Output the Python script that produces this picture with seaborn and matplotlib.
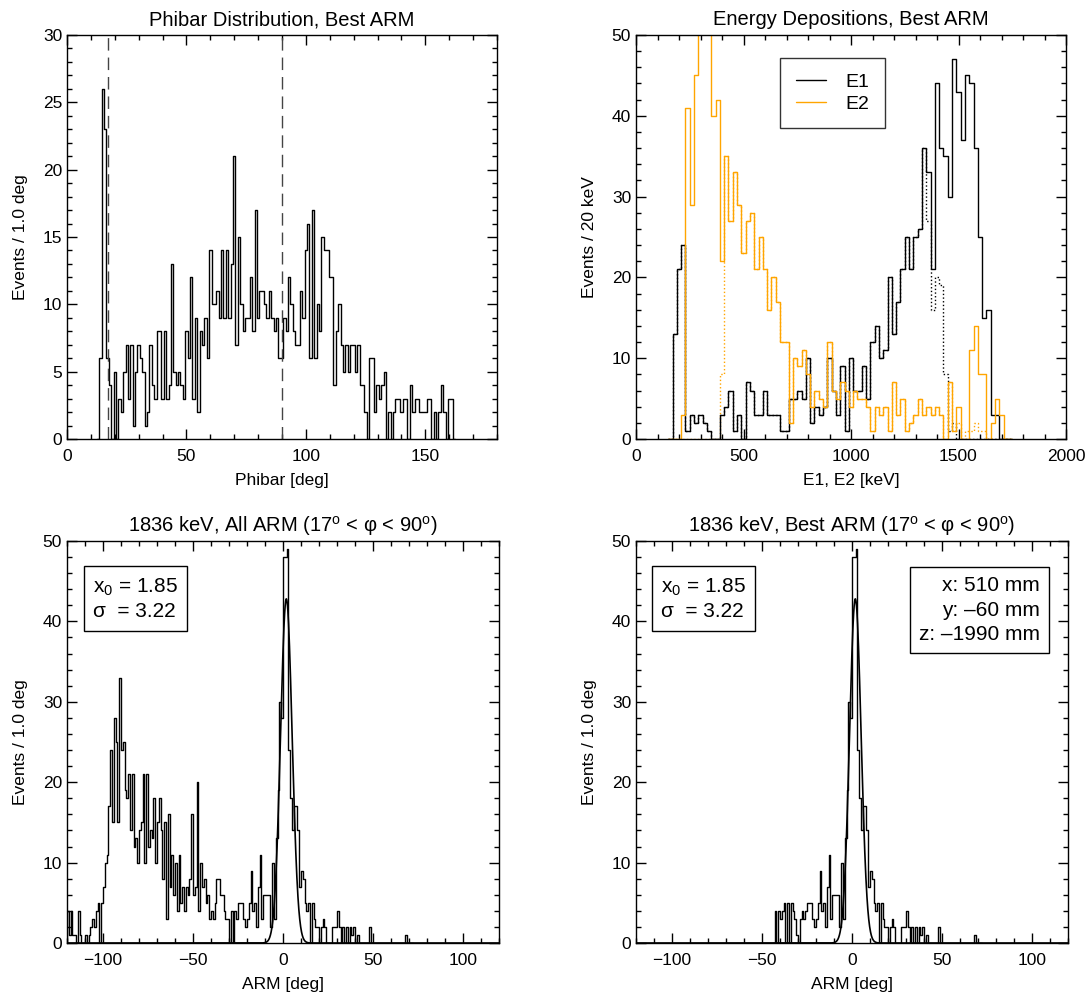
import numpy as np
import pandas as pd
import matplotlib
matplotlib.use("Agg")
import matplotlib.pyplot as plt
import seaborn as sns
from matplotlib.ticker import MultipleLocator

# ===============================
# DATA
# ===============================

# Phibar histogram, 1 deg bins starting at 13.5 deg
phibar_start = 13.5
phibar_counts = [
    6, 26, 23, 6, 4, 0, 5, 0, 3, 2,
    5, 7, 3, 7, 1, 5, 7, 6, 5, 1,
    2, 7, 4, 3, 8, 8, 3, 8, 3, 4,
    13, 5, 4, 5, 4, 3, 8, 6, 12, 3,
    9, 2, 8, 7, 9, 6, 14, 10, 10, 11,
    9, 14, 9, 14, 9, 13, 21, 7, 15, 10,
    8, 9, 9, 12, 8, 17, 9, 11, 11, 10,
    9, 11, 9, 8, 9,
    6, 6, 9, 8, 12, 10, 8, 7, 7, 11,
    9, 14, 16, 6, 17, 6, 10, 8, 15, 14,
    14, 12, 12, 4, 8, 10, 7, 5, 7, 5,
    7, 7, 5, 7, 4, 4, 2, 0, 6, 6,
    2, 4, 3, 4, 5, 0, 2, 0, 2, 3,
    3, 2, 3, 3, 0, 4, 2, 3, 3, 2,
    2, 2, 3, 3, 0, 2, 0, 2, 4, 2,
    0, 3, 3,
]
phibar_cuts = [17, 90]

# Energy depositions, 20 keV bins starting at 170 keV
energy_start = 170
e1_counts = [
    13, 21, 24, 1, 3, 2, 3, 2, 1, 0,
    0, 3, 4, 6, 1, 3, 0, 7, 6, 3,
    3, 6, 3, 3, 3, 1, 1, 5, 5, 6,
    5, 10, 2, 4, 3, 4, 10, 6, 3, 9,
    1, 10, 6, 6, 9, 5, 12, 14, 10, 11,
    20, 13, 17, 21, 25, 21, 25, 26, 36, 33,
    21, 44, 36, 35, 30, 47, 43, 37, 45, 44,
    36, 25, 15, 16, 3, 3, 0, 0,
]
e2_counts = [
    0, 0, 3, 41, 29, 45, 58, 62, 55, 40,
    42, 22, 35, 27, 33, 29, 23, 27, 28, 21,
    25, 21, 16, 20, 17, 12, 12, 2, 10, 9,
    11, 8, 4, 6, 5, 4, 12, 6, 5, 7,
    6, 4, 6, 5, 5, 4, 1, 4, 3, 4,
    1, 7, 3, 5, 1, 2, 3, 5, 3, 4,
    3, 4, 3, 0, 7, 1, 4, 0, 0, 11,
    14, 8, 8, 0, 2, 5, 3, 0,
]
e1_sel_counts = [
    13, 21, 24, 1, 3, 2, 3, 2, 1, 0,
    0, 3, 4, 6, 1, 3, 0, 7, 6, 3,
    3, 6, 3, 3, 3, 1, 1, 5, 5, 6,
    5, 10, 2, 4, 3, 4, 10, 6, 3, 9,
    1, 10, 6, 6, 9, 5, 12, 14, 10, 11,
    20, 13, 17, 21, 25, 21, 25, 26, 36, 27,
    16, 20, 19, 8, 1, 2, 0, 0, 0, 0,
    0, 0, 0, 0, 0, 0, 0, 0,
]
e2_sel_counts = [
    0, 0, 0, 0, 0, 0, 0, 0, 0, 0,
    0, 8, 35, 27, 33, 29, 23, 27, 28, 21,
    25, 21, 16, 20, 17, 12, 12, 2, 10, 9,
    11, 8, 4, 6, 5, 4, 12, 6, 5, 7,
    6, 4, 6, 5, 5, 4, 1, 4, 3, 4,
    1, 7, 3, 5, 1, 2, 3, 5, 3, 4,
    3, 4, 3, 0, 7, 1, 2, 0, 1, 1,
    2, 1, 1, 0, 0, 0, 0, 0,
]

# ARM histograms, 1 deg bins
arm_all_start = -120
arm_all_counts = [
    4, 1, 4, 1, 1, 0, 4, 1, 0, 0, 1, 0, 1, 2, 3, 2, 4, 5, 0, 5,
    7, 10, 11, 17, 24, 15, 28, 25, 15, 33,
    24, 25, 19, 18, 21, 14, 21, 12, 13, 10,
    14, 15, 21, 10, 21, 12, 14, 13, 18, 10,
    15, 18, 14, 8, 15, 3, 16, 7, 11, 6,
    10, 4, 11, 5, 7, 4, 7, 6, 8, 16,
    6, 7, 20, 4, 10, 7, 8, 5, 6, 3,
    4, 3, 5, 8, 8, 6, 6, 4, 3, 3,
    0, 4, 0, 4, 3, 5,
    5, 5, 3, 2, 3, 5, 9, 4, 5, 2, 7, 11, 3, 6, 6, 6, 6, 2, 10, 3,
    13, 19, 30, 28,
    48, 48, 49, 24, 18, 14, 17, 17, 14, 7,
    9, 8, 5, 4, 5, 0, 5, 3, 2, 2,
    0, 2, 3, 2, 0, 0, 0, 2, 2, 2,
    4, 2, 0, 2, 0, 2, 0, 2, 1, 2,
    0, 1, 0, 0, 0, 0, 0, 0, 2, 0,
    0, 0, 0, 0, 0, 0, 0, 0, 0, 0,
    0, 0, 0, 0, 0, 0, 0, 0, 1, 0, 0,
]
arm_best_start = -43
arm_best_counts = [
    4, 0, 4, 3, 4, 5, 0, 5, 0, 5, 4, 3, 1, 0, 3, 4, 3, 4, 5,
    5, 5, 3, 2, 3, 5, 9, 4, 5, 2, 7, 11, 3, 6, 6, 6, 6, 2, 10, 3,
    13, 19, 30, 28,
    48, 48, 49, 24, 18, 14, 17, 17, 14, 7,
    9, 8, 5, 4, 5, 0, 5, 3, 2, 2,
    0, 2, 3, 2, 0, 0, 0, 2, 2, 2,
    4, 2, 0, 2, 0, 2, 0, 2, 1, 2,
    0, 1, 0, 0, 0, 0, 0, 0, 2, 0,
    0, 0, 0, 0, 0, 0, 0, 0, 0, 0,
    0, 0, 0, 0, 0, 0, 0, 0, 1, 0, 0,
]

# Gaussian fit of the ARM peak
fit_x0 = 1.85
fit_sigma = 3.22
fit_amp = 42.8

# ===============================
# STYLE
# ===============================

sns.set_theme(style="ticks")
plt.rcParams["font.family"] = ["Liberation Sans", "DejaVu Sans"]
plt.rcParams["mathtext.fontset"] = "custom"
plt.rcParams["mathtext.rm"] = "Liberation Sans"
plt.rcParams["mathtext.it"] = "Liberation Sans:italic"
plt.rcParams["mathtext.sf"] = "Liberation Sans"
plt.rcParams["axes.edgecolor"] = "black"
plt.rcParams["axes.linewidth"] = 1.0
plt.rcParams["text.color"] = "black"
plt.rcParams["axes.labelcolor"] = "black"
plt.rcParams["xtick.color"] = "black"
plt.rcParams["ytick.color"] = "black"

W, H = 1092, 1002
fig = plt.figure(figsize=(W / 100, H / 100), dpi=100)


def make_ax(left, right, top, bottom):
    return fig.add_axes([left / W, 1 - bottom / H, (right - left) / W, (bottom - top) / H])


def step_hist(ax, start, width, counts, **kw):
    # pad one empty bin on each side so the outline drops to zero at the ends
    counts = np.concatenate([[0.0], np.asarray(counts, dtype=float), [0.0]])
    first = start - width
    centers = first + width * (np.arange(len(counts)) + 0.5)
    df = pd.DataFrame({"center": centers, "count": counts})
    sns.histplot(data=df, x="center", weights="count", binwidth=width,
                 binrange=(first, first + width * len(counts)),
                 element="step", fill=False, ax=ax, **kw)


def style_ax(ax, xmaj, xmin, ymaj, ymin):
    ax.xaxis.set_major_locator(MultipleLocator(xmaj))
    ax.xaxis.set_minor_locator(MultipleLocator(xmin))
    ax.yaxis.set_major_locator(MultipleLocator(ymaj))
    ax.yaxis.set_minor_locator(MultipleLocator(ymin))
    ax.tick_params(which="both", direction="in", top=True, right=True,
                   color="black", width=1, labelsize=12.5, labelcolor="black")
    ax.tick_params(which="major", length=7)
    ax.tick_params(which="minor", length=3.5)
    ax.tick_params(axis="x", which="major", pad=7.5)
    ax.tick_params(axis="y", which="major", pad=3.5)
    for s in ax.spines.values():
        s.set_color("black")
        s.set_linewidth(1)


title_kw = dict(fontsize=14.5, pad=7, color="black")
xlabel_kw = dict(fontsize=12.5, color="black", labelpad=6)
ylabel_kw = dict(fontsize=12.5, color="black", labelpad=10.5)

# ===============================
# PANEL 1 : PHIBAR
# ===============================

ax1 = make_ax(67, 497, 35, 439)
step_hist(ax1, phibar_start, 1, phibar_counts, color="black", linewidth=1)
for c in phibar_cuts:
    ax1.axvline(c, color="#444444", linestyle=(0, (9, 5)), linewidth=1)
ax1.set_xlim(0, 180)
ax1.set_ylim(0, 30)
style_ax(ax1, 50, 10, 5, 1)
ax1.set_title("Phibar Distribution, Best ARM", **title_kw)
ax1.set_xlabel("Phibar [deg]", **xlabel_kw)
ax1.set_ylabel("Events / 1.0 deg", **ylabel_kw)

# ===============================
# PANEL 2 : ENERGIES
# ===============================

ax2 = make_ax(636, 1066, 35, 439)
step_hist(ax2, energy_start, 20, e2_sel_counts, color="orange", linewidth=1,
          linestyle=":")
step_hist(ax2, energy_start, 20, e1_sel_counts, color="black", linewidth=1,
          linestyle=":")
step_hist(ax2, energy_start, 20, e1_counts, color="black", linewidth=1, label="E1")
step_hist(ax2, energy_start, 20, e2_counts, color="orange", linewidth=1, label="E2")
ax2.set_xlim(0, 2000)
ax2.set_ylim(0, 50)
style_ax(ax2, 500, 100, 10, 2)
ax2.set_title("Energy Depositions, Best ARM", **title_kw)
ax2.set_xlabel("E1, E2 [keV]", **xlabel_kw)
ax2.set_ylabel("Events / 20 keV", **ylabel_kw)
h, l = ax2.get_legend_handles_labels()
leg = ax2.legend(h[-2:], l[-2:], loc="upper left", bbox_to_anchor=(0.335, 0.943),
                 fontsize=14, frameon=True, fancybox=False, handlelength=1.55,
                 handletextpad=1.0, borderpad=0.8, labelspacing=0.2,
                 borderaxespad=0)
leg.get_frame().set_edgecolor("black")
leg.get_frame().set_linewidth(1)

# ===============================
# PANELS 3, 4 : ARM
# ===============================

xfit = np.linspace(-120, 120, 2401)
yfit = fit_amp * np.exp(-0.5 * ((xfit - fit_x0) / fit_sigma) ** 2)

fit_text = "x$_0$ = %.2f\nσ  = %.2f" % (fit_x0, fit_sigma)
box_kw = dict(boxstyle="square,pad=0.45", facecolor="white", edgecolor="black",
              linewidth=1)
text_kw = dict(fontsize=15, va="top", bbox=box_kw, linespacing=1.3)

ax3 = make_ax(67, 499, 541, 943)
step_hist(ax3, arm_all_start, 1, arm_all_counts, color="black", linewidth=1)
sns.lineplot(x=xfit, y=yfit, ax=ax3, color="black", linewidth=1.2)
ax3.set_xlim(-120, 120)
ax3.set_ylim(0, 50)
style_ax(ax3, 50, 10, 10, 2)
ax3.set_title("1836 keV, All ARM (17$^{\\rm o}$ < φ < 90$^{\\rm o}$)", **title_kw)
ax3.set_xlabel("ARM [deg]", **xlabel_kw)
ax3.set_ylabel("Events / 1.0 deg", **ylabel_kw)
ax3.text(0.06, 0.912, fit_text, transform=ax3.transAxes, ha="left", **text_kw)

ax4 = make_ax(636, 1068, 541, 943)
step_hist(ax4, arm_best_start, 1, arm_best_counts, color="black", linewidth=1)
sns.lineplot(x=xfit, y=yfit, ax=ax4, color="black", linewidth=1.2)
ax4.set_xlim(-120, 120)
ax4.set_ylim(0, 50)
style_ax(ax4, 50, 10, 10, 2)
ax4.set_title("1836 keV, Best ARM (17$^{\\rm o}$ < φ < 90$^{\\rm o}$)", **title_kw)
ax4.set_xlabel("ARM [deg]", **xlabel_kw)
ax4.set_ylabel("Events / 1.0 deg", **ylabel_kw)
ax4.text(0.058, 0.912, fit_text, transform=ax4.transAxes, ha="left", **text_kw)
ax4.text(0.935, 0.912, "x: 510 mm\ny: –60 mm\nz: –1990 mm", transform=ax4.transAxes,
         ha="right", multialignment="right", linespacing=1.35,
         **{k: v for k, v in text_kw.items() if k != "linespacing"})

fig.savefig("out.png", dpi=100)
